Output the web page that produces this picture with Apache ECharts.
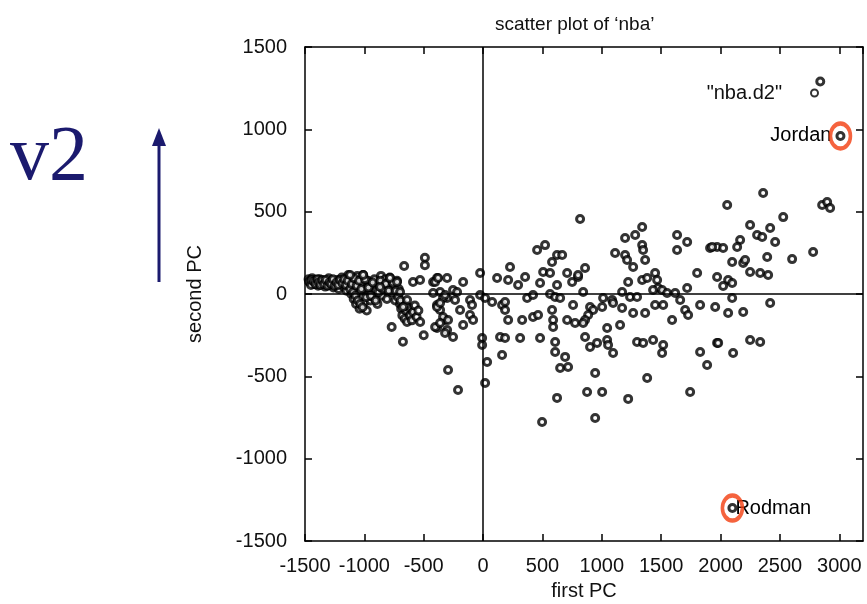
<!DOCTYPE html>
<html><head><meta charset="utf-8">
<script src="https://cdn.jsdelivr.net/npm/echarts@6/dist/echarts.min.js"></script>
<style>html,body{margin:0;padding:0;background:#fff}#c{width:867px;height:604px}</style>
</head><body><div id="c"></div>
<script>
const chartTitle = 'scatter plot of \u2018nba\u2019';
const xName = 'first PC';
const yName = 'second PC';
const seriesName = '"nba.d2"';
const xMin = -1500, xMax = 3200, xStep = 500;
const yMin = -1500, yMax = 1500, yStep = 500;

// left dense cluster (low first PC)
const clusterLeft = [
[-1470,90],[-1455,70],[-1440,95],[-1430,60],[-1415,85],[-1400,75],[-1390,50],[-1375,90],[-1360,65],[-1345,80],
[-1330,45],[-1315,70],[-1300,95],[-1290,55],[-1275,80],[-1260,40],[-1245,65],[-1230,85],[-1215,30],[-1200,60],
[-1190,100],[-1175,45],[-1160,75],[-1150,20],[-1135,115],[-1125,50],[-1110,0],[-1100,80],[-1090,-30],[-1080,40],
[-1070,-60],[-1060,110],[-1050,10],[-1040,-90],[-1030,60],[-1020,-20],[-1010,115],[-1000,-50],[-990,30],[-980,-100],
[-970,80],[-960,0],[-950,-40],[-940,50],[-925,-20],[-915,90],[-900,20],[-890,-60],[-875,60],[-860,110],
[-850,-10],[-840,40],[-825,90],[-810,-30],[-800,70],[-785,100],[-770,10],[-755,55],[-740,-40],[-725,80],
[-710,30],[-700,-60],[-690,-90],[-680,-130],[-670,-60],[-660,-150],[-650,-100],[-640,-170],[-630,-80],[-615,-130],
[-600,-160],[-590,-110],[-575,-70],[-560,-140],[-545,-100],[-530,-170],
[-1465,75],[-1450,55],[-1445,85],[-1425,75],[-1410,60],[-1395,90],[-1385,70],[-1370,55],[-1355,85],[-1340,60],
[-1325,85],[-1310,50],[-1295,70],[-1280,60],[-1265,90],[-1250,50],[-1235,70],[-1220,55],[-1205,85],[-1185,65],
[-1170,90],[-1155,55],[-1140,80],[-1120,30],[-1105,60],[-1095,10],[-1085,95],[-1075,-10],[-1065,50],[-1055,-40],
[-1045,80],[-1035,-60],[-1025,30],[-1015,-80],[-995,90],[-985,-20],[-965,40],[-945,-10],[-930,70],[-905,-40],
[-880,10],[-865,80],[-845,30],[-820,60],[-795,20],[-760,70],[-735,20],[-715,-20],[-695,-40],[-655,-70],
[-665,170],[-490,220],[-490,175],[-770,-200],[-675,-290],[-500,-250],[-1120,115],[-1010,115],[-590,73],[-531,85],
[-421,73],[-388,97],[-362,12],[-303,-24],[-388,-67],[-362,-97],[-388,-206],[-303,-219],[-320,-158],
[-784,97],[-725,73],[-868,42],[-699,12],[-640,-36],[-674,-79]
];
// middle band around first PC = 0
const clusterMid = [
[-404,73],[-379,97],[-303,97],[-168,73],
[-421,6],[-337,-24],[-320,-6],[-253,24],[-219,12],[-236,-36],[-194,-97],[-388,-79],[-362,-55],
[-110,-36],[-93,-67],[-110,-127],[-84,-158],
[-337,-140],[-295,-158],[-404,-200],[-362,-176],
[-320,-237],[-253,-261],[-168,-188],
[-295,-461],[-211,-583],
[-25,127],
[-25,-6],[17,-24],[76,-49],
[-8,-267],[-8,-310],[34,-413],[17,-540],
[118,97],[211,85],[295,55],[354,103],[227,164],
[160,-67],[185,-97],[211,-158],[185,-49],
[143,-261],[185,-267],[160,-370],
[329,-158],[312,-267],
[371,-24],[421,-6],[421,-140],[463,-127],[480,-267],
[455,267],[522,297],
[506,134],[564,127],[480,67],
[581,194],[623,237],[666,237],
[564,0],[623,55],[607,-18],[649,-24],
[581,-97],[590,-158],[590,-200],[607,-291],[607,-352],[691,-382],[649,-449],[716,-443],[623,-631],[497,-777],
[708,127],[750,73],[758,-67],[708,-158],[775,-176],[800,103]
];
// right part (high first PC)
const clusterRight = [
[817,455],[1196,340],[1281,358],[1340,407],[1112,249],[1196,237],[1213,206],
[1340,297],[1348,267],[1365,206],[1264,164],
[1634,358],[1719,316],[1634,267],[1912,279],[1971,285],
[859,158],[800,115],
[1222,73],[1340,85],[1382,97],[1449,127],
[1466,85],[1474,36],[1432,24],[1508,24],[1550,6],
[1618,6],[1719,36],[1803,127],[1971,103],
[843,12],[1171,12],[1011,-24],[1087,-36],[1238,-18],[1297,-18],
[901,-79],[927,-97],[885,-127],[859,-158],[1003,-79],
[1095,-55],[1171,-85],[1264,-115],[1365,-115],
[843,-176],[1045,-206],[1154,-188],
[1449,-67],[1517,-67],[1592,-158],[1660,-36],[1702,-97],[1727,-127],
[1828,-67],[1955,-79],
[859,-261],[901,-322],[960,-297],[1045,-279],[1053,-310],[1095,-358],
[1297,-291],[1348,-297],[1432,-279],[1517,-310],[1508,-358],
[1828,-352],[1887,-431],[1971,-297],
[944,-480],[1382,-510],[876,-595],[1003,-595],[1222,-637],[1744,-595],[944,-753],
[2359,613],[2056,540],[2528,467],[2856,540],[2898,558],[2923,522],
[2249,419],[2418,401],[2460,316],[2165,328],[2308,358],[2351,346],
[2140,285],[2022,279],[1929,285],
[2393,225],[2603,212],[2780,255],
[2098,194],[2191,188],[2207,206],
[2249,134],[2334,127],[2401,115],
[2064,85],[2098,67],[2022,49],
[2098,-24],[2418,-55],
[2064,-115],[2191,-109],
[1980,-297],[2106,-358],[2249,-279],[2334,-291],
[2840,1290]
];
const playerNames = ['Jordan', 'Rodman'];
const playerPoints = [[3010, 960], [2100, -1300]];

const FONT = '"Liberation Sans", Arial, sans-serif';
const TXT = '#111';
const chart = echarts.init(document.getElementById('c'), null, {renderer: 'canvas'});
const tickStyle = {show: true, inside: true, length: 7, lineStyle: {color: '#000', width: 1.5}};
const axisLineStyle = {show: true, onZero: false, lineStyle: {color: '#000', width: 1.5}};
const allPoints = clusterLeft.concat(clusterMid, clusterRight);
const pointStyle = {color: '#fff', borderColor: '#000', borderWidth: 3};
const plain = v => String(v);

chart.setOption({
  animation: false,
  backgroundColor: '#fff',
  title: {text: chartTitle, left: 490, top: 10,
    textStyle: {fontFamily: FONT, fontSize: 19, fontWeight: 'normal', color: TXT}},
  legend: {data: [seriesName], right: 43, top: 78, align: 'right', itemWidth: 7, itemHeight: 7,
    textStyle: {fontFamily: FONT, fontSize: 20, color: TXT, padding: [0, 24, 0, 0]}},
  grid: {left: 305, right: 4, top: 47, bottom: 63, containLabel: false, outerBoundsMode: 'none'},
  xAxis: [
    {type: 'value', min: xMin, max: xMax, interval: xStep, position: 'bottom',
     name: xName, nameLocation: 'middle', nameGap: 40,
     nameTextStyle: {fontFamily: FONT, fontSize: 20, color: TXT},
     axisLine: axisLineStyle, axisTick: tickStyle, splitLine: {show: false},
     axisLabel: {fontFamily: FONT, fontSize: 20, color: TXT, margin: 15, showMaxLabel: false, formatter: plain}},
    {type: 'value', min: xMin, max: xMax, interval: xStep, position: 'top',
     axisLine: axisLineStyle, axisTick: tickStyle, splitLine: {show: false}, axisLabel: {show: false}}
  ],
  yAxis: [
    {type: 'value', min: yMin, max: yMax, interval: yStep, position: 'left',
     name: yName, nameLocation: 'middle', nameGap: 100, nameRotate: 90,
     nameTextStyle: {fontFamily: FONT, fontSize: 20, color: TXT},
     axisLine: axisLineStyle, axisTick: tickStyle, splitLine: {show: false},
     axisLabel: {fontFamily: FONT, fontSize: 20, color: TXT, margin: 18, formatter: plain}},
    {type: 'value', min: yMin, max: yMax, interval: yStep, position: 'right',
     axisLine: axisLineStyle, axisTick: tickStyle, splitLine: {show: false}, axisLabel: {show: false}}
  ],
  series: [
    {name: seriesName, type: 'scatter', data: allPoints, symbol: 'circle', symbolSize: 7,
     itemStyle: pointStyle,
     markLine: {silent: true, symbol: 'none', label: {show: false},
       lineStyle: {color: '#000', width: 1.5, type: 'solid'},
       data: [{xAxis: 0}, {yAxis: 0}]}},
    {name: 'players', type: 'scatter', symbol: 'circle', symbolSize: 7, itemStyle: pointStyle,
     data: playerPoints.map((p, i) => ({value: p, name: playerNames[i],
       label: {show: true, formatter: playerNames[i], position: i === 0 ? 'left' : 'right',
         distance: i === 0 ? 4 : -2, fontFamily: FONT, fontSize: 20, color: '#000', opacity: 1}}))},
    {name: 'highlight', type: 'scatter', symbol: 'circle', symbolSize: [20, 25], z: 5,
     itemStyle: {color: 'rgba(0,0,0,0)', borderColor: '#f23c0e', borderWidth: 4},
     data: playerPoints}
  ],
  graphic: [
    {type: 'text', left: 10, top: 120, style: {text: 'v2', font: '78px "Liberation Serif", "DejaVu Serif", serif', fill: '#1b1a6e'}},
    {type: 'line', shape: {x1: 159, y1: 282, x2: 159, y2: 140}, style: {stroke: '#1b1a6e', lineWidth: 3}},
    {type: 'polygon', shape: {points: [[159, 128], [152, 146], [166, 146]]}, style: {fill: '#1b1a6e'}}
  ]
});
</script></body></html>
